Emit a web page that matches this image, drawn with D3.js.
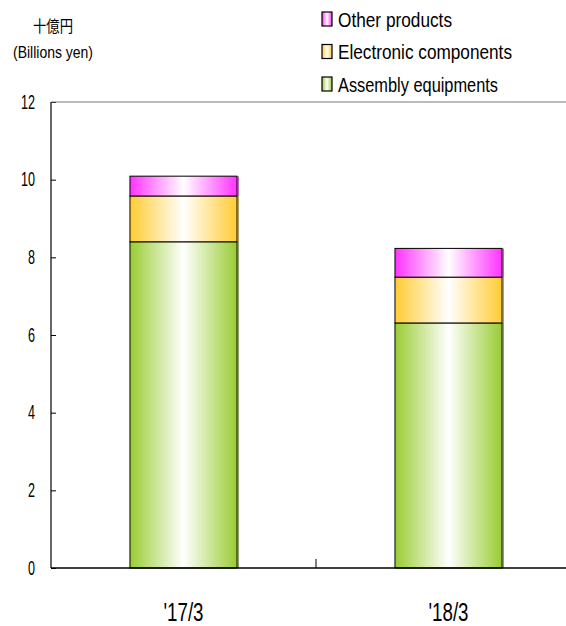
<!DOCTYPE html>
<html><head><meta charset="utf-8">
<script src="https://cdn.jsdelivr.net/npm/d3@7"></script>
<style>
body{margin:0;background:#fff;}
text{font-family:"Liberation Sans",Arial,sans-serif;fill:#000;}
</style></head>
<body>
<svg id="chart" width="566" height="626"></svg>
<script>
const categories = ["'17/3", "'18/3"];
const seriesNames = ["Assembly equipments", "Electronic components", "Other products"];
const assembly = [8.40, 6.31];
const electronic = [1.18, 1.18];
const other = [0.51, 0.74];
const yTicks = [0, 2, 4, 6, 8, 10, 12];
const colors = ["#99cc33", "#ffcc33", "#ff33ff"];
const shades = ["#4d661a", "#806619", "#801a80"];

const svg = d3.select("#chart");
const x0 = 51, x1 = 581, yTop = 102, yBot = 568;
const x = d3.scaleBand().domain(categories).range([x0, x1]).paddingInner(0).paddingOuter(0);
const y = d3.scaleLinear().domain([0, 12]).range([yBot, yTop]);
const bw = x.bandwidth() * 0.404;

// condensed look: fit each text to a measured width
function fit(sel, w) {
  sel.attr("textLength", w).attr("lengthAdjust", "spacingAndGlyphs");
}

const defs = svg.append("defs");
colors.forEach((c, i) => {
  const g = defs.append("linearGradient").attr("id", "g" + i).attr("x1", "0").attr("x2", "1").attr("y1", "0").attr("y2", "0");
  g.append("stop").attr("offset", "0%").attr("stop-color", c);
  g.append("stop").attr("offset", "50%").attr("stop-color", "#ffffff");
  g.append("stop").attr("offset", "100%").attr("stop-color", c);
});

const data = categories.map((c, i) => ({cat: c, v: [assembly[i], electronic[i], other[i]]}));
const stacked = d3.stack().keys([0, 1, 2]).value((d, k) => d.v[k])(data);

stacked.forEach((layer, k) => {
  layer.forEach(d => {
    const cx = x(d.data.cat) + x.bandwidth() / 2;
    const top = y(d[1]), bot = y(d[0]);
    svg.append("rect").attr("x", cx - bw / 2).attr("y", top).attr("width", bw).attr("height", bot - top)
      .attr("fill", `url(#g${k})`).attr("stroke", "#000").attr("stroke-width", 1);
    svg.append("line").attr("x1", cx + bw / 2 + 1).attr("x2", cx + bw / 2 + 1).attr("y1", top).attr("y2", bot)
      .attr("stroke", shades[k]).attr("stroke-width", 1.2);
  });
});

// y axis
const yAxis = svg.append("g").attr("transform", `translate(${x0},0)`)
  .call(d3.axisLeft(y).tickValues(yTicks).tickSize(-5).tickPadding(16).tickFormat(d3.format("d")));
yAxis.select(".domain").remove();
yAxis.selectAll(".tick line").attr("stroke", "#000");
yAxis.selectAll("text").attr("font-size", 19.5).attr("fill", "#000").attr("font-family", null)
  .each(function(d) { fit(d3.select(this), String(d).length * 7); });
svg.append("line").attr("x1", x0).attr("x2", x0).attr("y1", yTop).attr("y2", yBot).attr("stroke", "#000").attr("stroke-width", 1.2);
svg.append("line").attr("x1", x0).attr("x2", 566).attr("y1", yTop).attr("y2", yTop).attr("stroke", "#777").attr("stroke-width", 1);

// x axis
const xAxis = svg.append("g").attr("transform", `translate(0,${yBot})`)
  .call(d3.axisBottom(x).tickSize(0).tickPadding(35));
xAxis.select(".domain").remove();
xAxis.selectAll("text").attr("font-size", 26).attr("font-family", null).each(function() { fit(d3.select(this), 40); });
svg.append("line").attr("x1", x0).attr("x2", 566).attr("y1", yBot).attr("y2", yBot).attr("stroke", "#000").attr("stroke-width", 1.5);
svg.append("line").attr("x1", x(categories[1])).attr("x2", x(categories[1])).attr("y1", yBot).attr("y2", yBot - 9).attr("stroke", "#000").attr("stroke-width", 1);

// unit labels
const u1 = svg.append("text").attr("x", 33).attr("y", 32).attr("font-size", 16)
  .style("font-family", "'Noto Sans CJK JP',sans-serif").text("十億円");
fit(u1, 40);
const u2 = svg.append("text").attr("x", 13).attr("y", 58).attr("font-size", 17).text("(Billions yen)");
fit(u2, 80);

// legend
const legendOrder = [2, 1, 0];
const legendWidths = [114, 174, 160];
legendOrder.forEach((k, i) => {
  const base = 26.5 + i * 32.5;
  svg.append("rect").attr("x", 322).attr("y", base - 14.5).attr("width", 10).attr("height", 14)
    .attr("fill", `url(#g${k})`).attr("stroke", "#000").attr("stroke-width", 1.2);
  const t = svg.append("text").attr("x", 338).attr("y", base).attr("font-size", 21).text(seriesNames[k]);
  fit(t, legendWidths[i]);
});
</script>
</body></html>
